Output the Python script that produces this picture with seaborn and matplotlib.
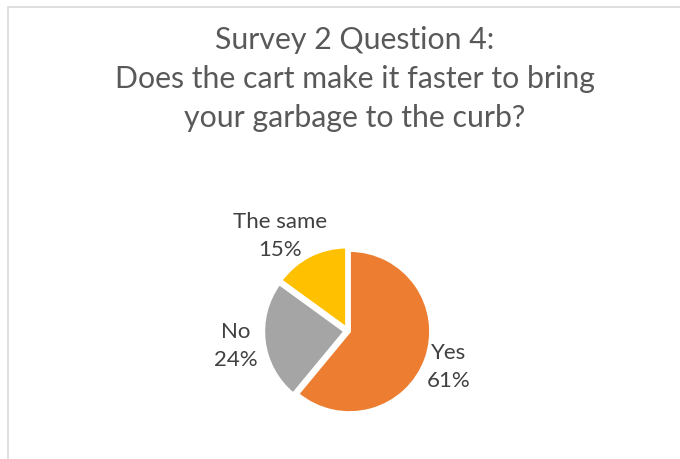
import matplotlib
matplotlib.use("Agg")
import matplotlib.pyplot as plt
import seaborn as sns
from matplotlib.patches import Rectangle

categories = ["Yes", "No", "The same"]
values = [61, 24, 15]
colors_hex = ["#ED7D31", "#A5A5A5", "#FFC000"]
title_lines = ["Survey 2 Question 4:", "Does the cart make it faster to bring", "your garbage to the curb?"]

sns.set_theme(style="white")
plt.rcParams["font.family"] = ["Lato", "DejaVu Sans"]
palette = sns.color_palette(colors_hex)

W, H = 680, 459
fig = plt.figure(figsize=(6.8, 4.59), dpi=100)
fig.patch.set_facecolor("white")

# frame lines
fig.add_artist(Rectangle((8 / W, -0.1), 1.2, (H - 7) / H + 0.1, transform=fig.transFigure,
                         fill=False, edgecolor="#d9d9d9", linewidth=1.2))

for i, (line, y) in enumerate(zip(title_lines, [40, 79, 118])):
    fig.text(355 / W, 1 - y / H, line, ha="center", va="center", fontsize=21.8, color="#595959")

# pie axes: centre (348, 331) px, radius 81 px
cx, cy, r = 348, 331, 81
half = 160
ax = fig.add_axes([(cx - half) / W, (H - cy - half) / H, 2 * half / W, 2 * half / H])

wedges, _ = ax.pie(values, colors=palette, startangle=90, counterclock=False,
                   explode=[0.02, 0.04, 0.04], frame=False,
                   wedgeprops=dict(edgecolor="white", linewidth=2))
lim = half / r
ax.set_xlim(-lim, lim)
ax.set_ylim(-lim, lim)
ax.set_aspect("equal")
ax.axis("off")

label_pos = {"Yes": (449, 367), "No": (236, 346), "The same": (280, 236)}
for cat, v in zip(categories, values):
    px, py = label_pos[cat]
    ax.text((px - cx) / r, (cy - py) / r, f"{cat}\n{v}%", ha="center", va="center",
            fontsize=16, color="#404040", linespacing=1.55)

fig.savefig("out.png", dpi=100, facecolor="white")
